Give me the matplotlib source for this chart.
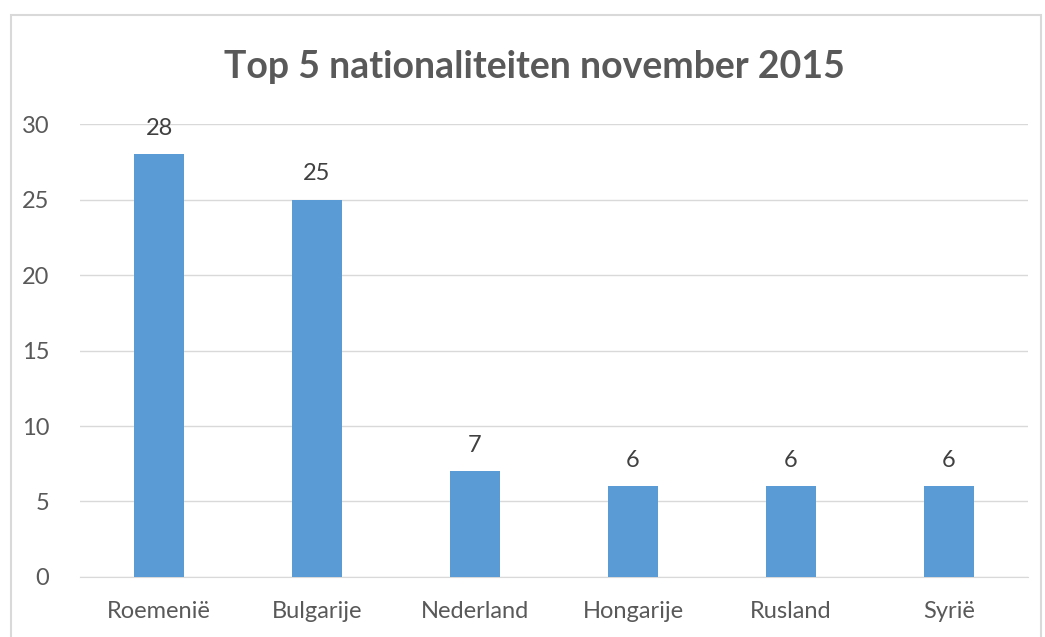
import matplotlib.pyplot as plt
from matplotlib.patches import Rectangle

# Data
countries = ['Roemenië', 'Bulgarije', 'Nederland', 'Hongarije', 'Rusland', 'Syrië']
counts = [28, 25, 7, 6, 6, 6]

plt.rcParams['font.family'] = ['Lato', 'DejaVu Sans']

fig = plt.figure(figsize=(10.45, 6.37), dpi=100)
ax = fig.add_axes([0.0766, 0.0942, 0.9071, 0.7111])

x = range(len(countries))
bars = ax.bar(x, counts, width=0.316, color='#5b9bd5', zorder=3)

for i, v in enumerate(counts):
    ax.text(i, v + 1.0, str(v), ha='center', va='bottom', fontsize=17, color='#404040')

ax.set_xlim(-0.5, len(countries) - 0.5)
ax.set_ylim(0, 30)
ax.set_yticks(range(0, 31, 5))
ax.set_xticks(list(x))
ax.set_xticklabels(countries)
ax.tick_params(axis='both', length=0, labelsize=17, labelcolor='#595959')
ax.tick_params(axis='x', pad=17)
ax.tick_params(axis='y', pad=22)
ax.grid(axis='y', color='#d9d9d9', linewidth=1, zorder=0)
for s in ['top', 'right', 'left']:
    ax.spines[s].set_visible(False)
ax.spines['bottom'].set_color('#d9d9d9')

fig.text(0.511, 0.895, 'Top 5 nationaliteiten november 2015', ha='center', va='center',
         fontsize=27, fontweight='bold', color='#595959')

# chart border
fig.patches.append(Rectangle((11 / 1045, -0.05), 1030 / 1045, 1.05 - 15 / 637,
                             transform=fig.transFigure, fill=False,
                             edgecolor='#d9d9d9', linewidth=1.5))

fig.savefig('out.png', dpi=100, facecolor='white')
